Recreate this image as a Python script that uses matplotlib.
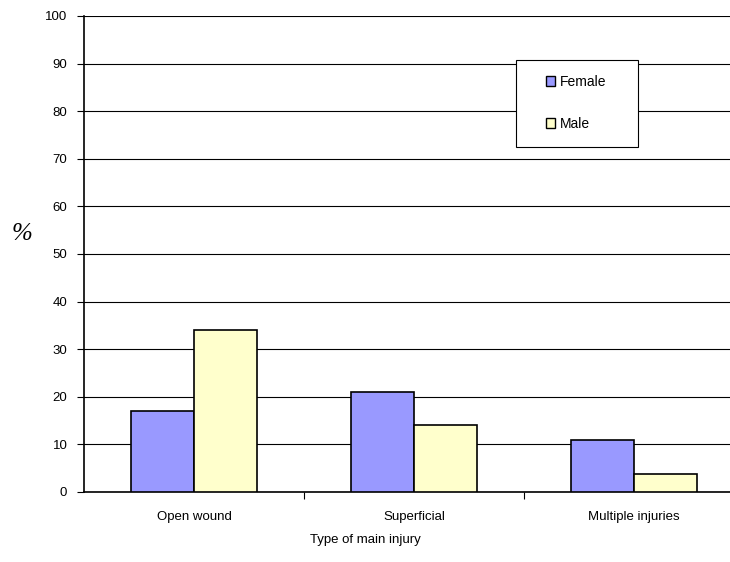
import matplotlib.pyplot as plt
import numpy as np
from matplotlib.patches import Patch, Rectangle

categories = ['Open wound', 'Superficial', 'Multiple injuries']
female = [17, 21, 11]
male = [34, 14, 3.7]

plt.rcParams['font.family'] = ['Liberation Sans', 'DejaVu Sans']

W, H = 730, 562
fig = plt.figure(figsize=(W / 100, H / 100), dpi=100)
# plot area runs past the right edge of the picture, as in the original
ax = fig.add_axes([84 / W, 1 - 492 / H, 660 / W, 476 / H])

x = np.arange(len(categories))
w = 1 / 3.5
ax.bar(x - w / 2, female, w, color='#9999ff', edgecolor='black', linewidth=1.2, label='Female', zorder=3)
ax.bar(x + w / 2, male, w, color='#ffffcc', edgecolor='black', linewidth=1.2, label='Male', zorder=3)

ax.set_xlim(-0.5, 2.5)
ax.set_ylim(0, 100)
ax.set_yticks(range(0, 101, 10))
ax.yaxis.grid(True, color='black', linewidth=0.8)
ax.set_axisbelow(True)

ax.set_xticks([0.5, 1.5])
ax.set_xticklabels([])
ax.tick_params(axis='x', direction='out', length=5, width=0.8)
ax.tick_params(axis='y', direction='out', length=5, width=0.8, labelsize=9.5, pad=7)
for i, c in enumerate(categories):
    ax.text(i, -5.3, c, ha='center', va='center', fontsize=9.5)

for s in ['top', 'right']:
    ax.spines[s].set_visible(False)
ax.spines['left'].set_linewidth(1.2)
ax.spines['bottom'].set_linewidth(1.2)

fig.text(365 / W, 1 - 540 / H, 'Type of main injury', ha='center', va='center', fontsize=9.5)
fig.text(22 / W, 1 - 234 / H, '%', ha='center', va='center', fontsize=18,
         family='Liberation Serif', style='italic')

# legend box
fig.patches.append(Rectangle((516 / W, 1 - 147 / H), 122 / W, 87 / H,
                             transform=fig.transFigure, facecolor='white',
                             edgecolor='black', linewidth=0.8, zorder=5))
handles = [Patch(facecolor='#9999ff', edgecolor='black', label='Female'),
           Patch(facecolor='#ffffcc', edgecolor='black', label='Male')]
leg = fig.legend(handles=handles, loc='upper left',
                 bbox_to_anchor=(546 / W, 1 - 75 / H),
                 fontsize=10, frameon=False,
                 handlelength=0.65, handleheight=0.65, handletextpad=0.35,
                 labelspacing=2.0, borderpad=0, borderaxespad=0)
leg.set_zorder(6)

fig.savefig('out.png', dpi=100)
